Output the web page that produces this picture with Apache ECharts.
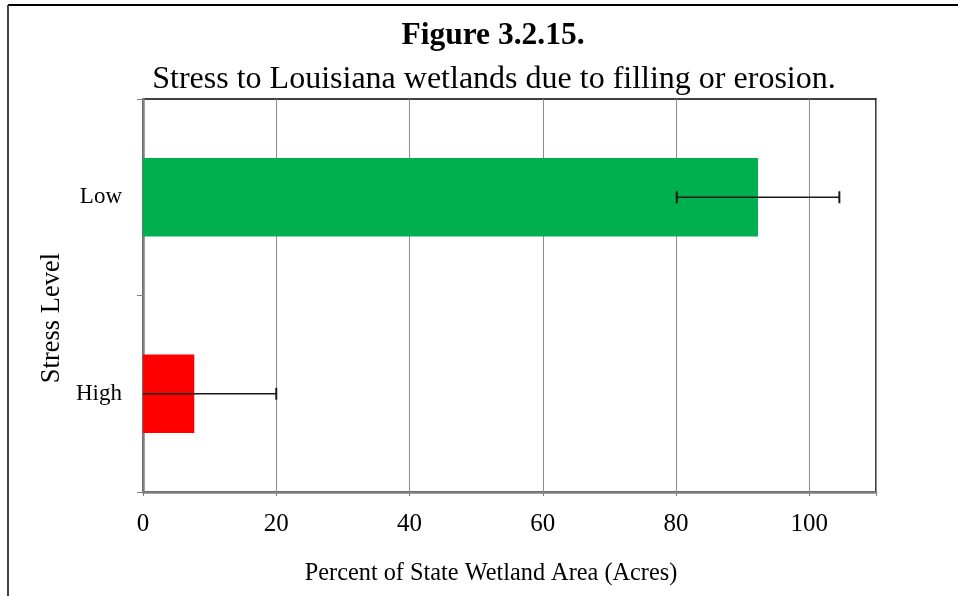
<!DOCTYPE html>
<html>
<head>
<meta charset="utf-8">
<script src="https://cdn.jsdelivr.net/npm/echarts@6/dist/echarts.min.js"></script>
<style>
html,body{margin:0;padding:0;background:#fff;}
#chart{width:958px;height:596px;}
</style>
</head>
<body>
<div id="chart"></div>
<script>
// Data
var categories = ['High', 'Low'];
var values = [7.7, 92.3];
var errors = [12.3, 12.2];
var barColors = ['#FF0000', '#00B050'];
var xTicks = [0, 20, 40, 60, 80, 100];

var FONT = 'Liberation Serif';
var chart = echarts.init(document.getElementById('chart'));

var barData = values.map(function (v, i) {
  return { value: v, itemStyle: { color: barColors[i] } };
});
var errData = values.map(function (v, i) {
  return [i, v - errors[i], v + errors[i]];
});

var option = {
  backgroundColor: '#fff',
  animation: false,
  title: [
    { text: 'Figure 3.2.15.', left: 488, top: 15, textAlign: 'center',
      textStyle: { fontFamily: FONT, fontSize: 31.5, fontWeight: 'bold', color: '#000' } },
    { text: 'Stress to Louisiana wetlands due to filling or erosion.', left: 489, top: 59, textAlign: 'center',
      textStyle: { fontFamily: FONT, fontSize: 32, fontWeight: 'normal', color: '#000' } }
  ],
  graphic: [
    { type: 'line', shape: { x1: 8, y1: 5, x2: 958, y2: 5 }, style: { stroke: '#000', lineWidth: 2 } },
    { type: 'line', shape: { x1: 8, y1: 5, x2: 8, y2: 596 }, style: { stroke: '#444', lineWidth: 2 } }
  ],
  grid: {
    left: 143, right: 82, top: 99, bottom: 104,
    show: true, borderColor: '#000', borderWidth: 1.5, backgroundColor: '#fff'
  },
  xAxis: {
    type: 'value', min: 0, max: 110, interval: 20,
    name: 'Percent of State Wetland Area (Acres)',
    nameLocation: 'middle', nameGap: 70,
    nameTextStyle: { fontFamily: FONT, fontSize: 24.3, color: '#000', padding: [0, 37, 0, 0] },
    axisLine: { show: true, onZero: false, lineStyle: { color: '#808080', width: 2.5 } },
    axisTick: { show: true, length: 4, lineStyle: { color: '#808080' } },
    axisLabel: { fontFamily: FONT, fontSize: 25, color: '#000', margin: 20,
      formatter: function (v) { return xTicks.indexOf(v) >= 0 ? String(v) : ''; } },
    splitLine: { show: true, lineStyle: { color: '#8c8c8c', width: 1 } }
  },
  yAxis: {
    type: 'category', data: categories,
    name: 'Stress Level', nameLocation: 'middle', nameGap: 76,
    nameTextStyle: { fontFamily: FONT, fontSize: 26.5, color: '#000', padding: [0, 45, 0, 0] },
    axisLine: { show: true, lineStyle: { color: '#808080', width: 2.5 } },
    axisTick: { show: true, length: 6, lineStyle: { color: '#808080' } },
    axisLabel: { fontFamily: FONT, fontSize: 23, color: '#000', margin: 21 },
    splitLine: { show: false }
  },
  series: [
    {
      type: 'bar', data: barData, barWidth: '40%'
    },
    {
      type: 'custom',
      clip: true,
      z: 5,
      data: errData,
      encode: { x: [1, 2], y: 0 },
      renderItem: function (params, api) {
        var yi = api.value(0);
        var lo = api.coord([api.value(1), yi]);
        var hi = api.coord([api.value(2), yi]);
        var h = 6;
        var style = { stroke: '#1a1a1a', lineWidth: 1.5 };
        return {
          type: 'group',
          children: [
            { type: 'line', shape: { x1: lo[0], y1: lo[1], x2: hi[0], y2: hi[1] }, style: style },
            { type: 'line', shape: { x1: lo[0], y1: lo[1] - h, x2: lo[0], y2: lo[1] + h }, style: { stroke: '#1a1a1a', lineWidth: 2 } },
            { type: 'line', shape: { x1: hi[0], y1: hi[1] - h, x2: hi[0], y2: hi[1] + h }, style: { stroke: '#1a1a1a', lineWidth: 2 } }
          ]
        };
      }
    }
  ]
};
chart.setOption(option);
</script>
</body>
</html>
